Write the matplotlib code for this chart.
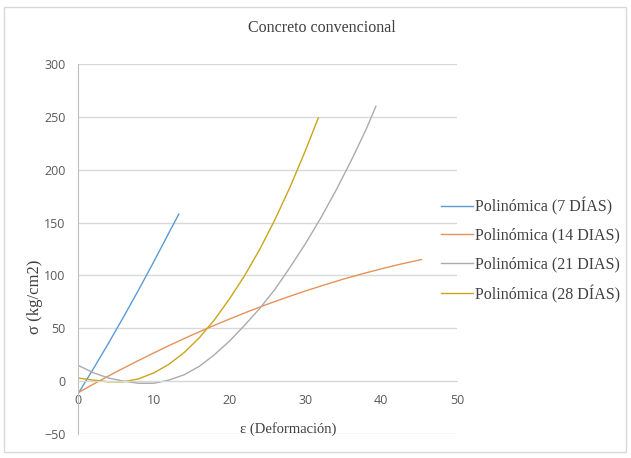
import matplotlib.pyplot as plt
from matplotlib.patches import Rectangle

x7 = [0, 2, 4, 6, 8, 10, 12, 13.3]
y7 = [-12, 11.4, 35.6, 60.6, 86.4, 113, 140.4, 158]

x14 = [0, 2.5, 5, 7.5, 10, 12.5, 15, 17.5, 20, 22.5, 25, 27.5, 30, 32.5, 35, 37.5, 40, 42.5, 45.3]
y14 = [-11, -1, 8.6, 17.8, 26.7, 35.3, 43.5, 51.3, 58.8, 66, 72.8, 79.2, 85.3, 91, 96.5, 101.5, 106.2, 110.6, 115]

x21 = [0, 2, 4, 6, 8, 10, 12, 14, 16, 18, 20, 22, 24, 26, 28, 30, 32, 34, 36, 38, 39.3]
y21 = [15, 8, 3, 0, -2, -2, 1, 6, 14, 25, 38, 53, 69, 87, 108, 130, 154, 180, 208, 238, 260]

x28 = [0, 2, 4, 6, 8, 10, 12, 14, 16, 18, 20, 22, 24, 26, 28, 30, 31.7]
y28 = [3, 1, -0.6, -0.6, 2.2, 7.8, 16, 27, 41, 58, 78, 100, 125, 153, 184, 218, 249]

series = [
    (x7, y7, 'Polinómica (7 DÍAS)', '#5B9BD5'),
    (x14, y14, 'Polinómica (14 DIAS)', '#E69258'),
    (x21, y21, 'Polinómica (21 DIAS)', '#ABABAB'),
    (x28, y28, 'Polinómica (28 DÍAS)', '#C9A51A'),
]

serif = ['Liberation Serif', 'DejaVu Serif']
sans = ['Open Sans', 'DejaVu Sans']

fig = plt.figure(figsize=(6.31, 4.58), dpi=100)
fig.patches.append(Rectangle((4 / 631, 1 - 452 / 458), 622 / 631, 445 / 458,
                             transform=fig.transFigure, fill=False,
                             edgecolor='#D9D9D9', linewidth=1))

ax = fig.add_axes([78 / 631, 1 - 434 / 458, 379 / 631, 370 / 458])

for xs, ys, lab, col in series:
    ax.plot(xs, ys, color=col, linewidth=1.0, label=lab)

ax.set_xlim(0, 50)
ax.set_ylim(-50, 300)
ax.set_xticks(range(0, 51, 10))
ax.set_yticks(range(-50, 301, 50))
ax.yaxis.grid(True, color='#D9D9D9', linewidth=1)
ax.set_axisbelow(True)

for s in ['top', 'right']:
    ax.spines[s].set_visible(False)
ax.spines['left'].set_color('#BFBFBF')
ax.spines['bottom'].set_position(('data', 0))
ax.spines['bottom'].set_color('#D9D9D9')
ax.tick_params(axis='both', length=0, labelsize=9, labelcolor='#595959')
ax.tick_params(axis='x', pad=9)
ax.tick_params(axis='y', pad=9)
for t in ax.get_xticklabels() + ax.get_yticklabels():
    t.set_family(sans)

fig.text(322 / 631, 1 - 28 / 458, 'Concreto convencional', ha='center', va='center',
         fontsize=11.5, family=serif, color='#404040')
fig.text(288 / 631, 1 - 429 / 458, 'ε (Deformación)', ha='center', va='center',
         fontsize=10.5, family=serif, color='#404040')
fig.text(35 / 631, 1 - 297 / 458, 'σ (kg/cm2)', ha='center', va='center',
         rotation=90, fontsize=12, family=serif, color='#404040')

leg = ax.legend(loc='center left', bbox_to_anchor=(0.958, 0.497), frameon=False,
                borderpad=0, borderaxespad=0, handlelength=2.0, handletextpad=0.15,
                labelspacing=0.78, prop={'family': serif, 'size': 11.5})
for t in leg.get_texts():
    t.set_color('#404040')

fig.savefig('out.png', dpi=100)
